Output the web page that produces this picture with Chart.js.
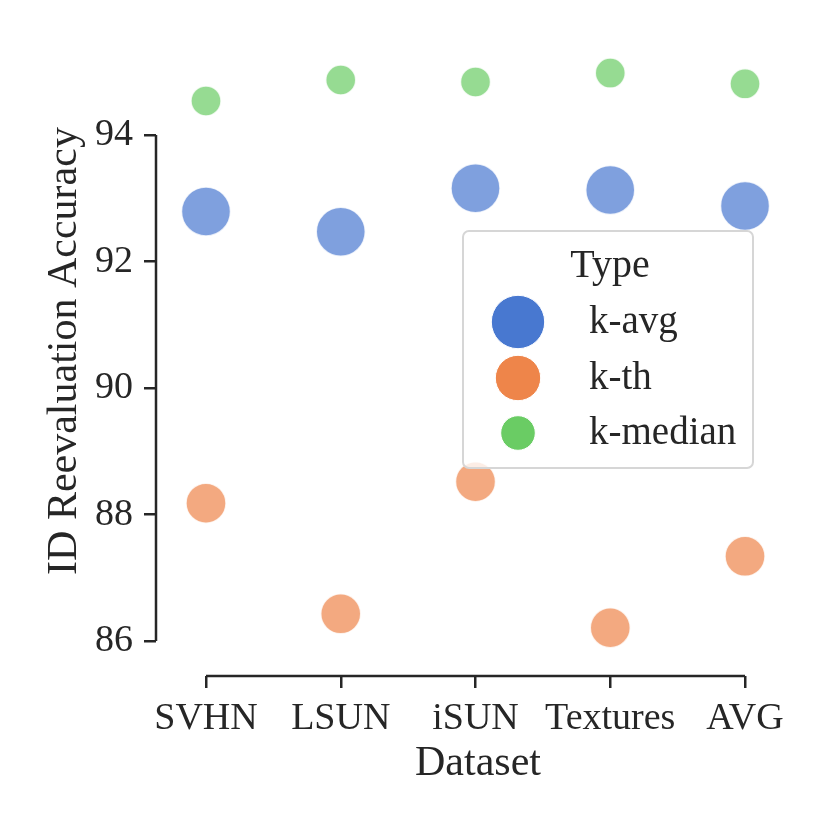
<!DOCTYPE html>
<html>
<head>
<meta charset="utf-8">
<script src="https://cdn.jsdelivr.net/npm/chart.js@4/dist/chart.umd.min.js"></script>
<style>
  body { margin: 0; background: #ffffff; }
  #wrap { width: 830px; height: 830px; }
</style>
</head>
<body>
<div id="wrap"><canvas id="grafico" width="830" height="830"></canvas></div>
<script>
// dati
var datasetNames = ["SVHN", "LSUN", "iSUN", "Textures", "AVG"];
var kAvg = [92.79, 92.47, 93.16, 93.13, 92.88];
var kTh = [88.18, 86.43, 88.52, 86.21, 87.34];
var kMedian = [94.54, 94.87, 94.84, 94.98, 94.81];
var yTicks = [86, 88, 90, 92, 94];

var testo = "#262626";
var serif = "'Liberation Serif', 'Times New Roman', 'DejaVu Serif', serif";

function punti(valori){
    return valori.map((v, i) => ({x: i, y: v}));
}

// spine "tagliate" come seaborn despine(trim=True)
const spinePlugin = {
    id: 'spine',
    afterDraw(chart){
        const ctx = chart.ctx;
        const xs = chart.scales.x, ys = chart.scales.y;
        ctx.save();
        ctx.strokeStyle = testo;
        ctx.lineWidth = 2.5;
        ctx.lineCap = 'butt';
        ctx.beginPath();
        ctx.moveTo(chart.chartArea.left, ys.getPixelForValue(yTicks[0]));
        ctx.lineTo(chart.chartArea.left, ys.getPixelForValue(yTicks[yTicks.length - 1]));
        ctx.moveTo(xs.getPixelForValue(0), chart.chartArea.bottom);
        ctx.lineTo(xs.getPixelForValue(datasetNames.length - 1), chart.chartArea.bottom);
        ctx.stroke();
        ctx.restore();
    }
};

const legendaPlugin = {
    id: 'legenda',
    afterDatasetsDraw(chart, args, opts){
        const ctx = chart.ctx;
        ctx.save();
        ctx.beginPath();
        ctx.roundRect(463, 231, 290, 237, 6);
        ctx.fillStyle = "rgba(255,255,255,0.8)";
        ctx.fill();
        ctx.strokeStyle = "#d6d6d6";
        ctx.lineWidth = 2;
        ctx.stroke();

        ctx.fillStyle = testo;
        ctx.font = "40px " + serif;
        ctx.textAlign = "center";
        ctx.textBaseline = "alphabetic";
        ctx.fillText("Type", 610, 277);

        ctx.font = "39px " + serif;
        ctx.textAlign = "left";
        const righe = [322, 378, 433];
        chart.data.datasets.forEach((ds, i) => {
            ctx.beginPath();
            ctx.arc(518, righe[i], opts.raggi[i], 0, Math.PI * 2);
            ctx.fillStyle = ds.legendColor;
            ctx.fill();
            ctx.strokeStyle = "#ffffff";
            ctx.lineWidth = 1;
            ctx.stroke();
            ctx.fillStyle = testo;
            ctx.fillText(ds.label, 589, righe[i] + 11);
        });
        ctx.restore();
    }
};

const context = document.getElementById("grafico").getContext("2d");
const chart = new Chart(context, {
    type: 'scatter',
    data: {
        datasets: [
            {
                label: "k-avg",
                data: punti(kAvg),
                backgroundColor: "rgba(72,120,208,0.7)",
                legendColor: "#4878d0",
                borderColor: "rgba(255,255,255,0.8)",
                borderWidth: 1.5,
                pointRadius: 24.5
            },
            {
                label: "k-th",
                data: punti(kTh),
                backgroundColor: "rgba(238,133,74,0.7)",
                legendColor: "#ee854a",
                borderColor: "rgba(255,255,255,0.8)",
                borderWidth: 1.5,
                pointRadius: 20
            },
            {
                label: "k-median",
                data: punti(kMedian),
                backgroundColor: "rgba(106,204,100,0.7)",
                legendColor: "#6acc64",
                borderColor: "rgba(255,255,255,0.8)",
                borderWidth: 1.5,
                pointRadius: 15
            }
        ]
    },
    options: {
        responsive: false,
        animation: false,
        layout: { padding: { top: 5, right: 30, bottom: 0, left: 0 } },
        plugins: {
            legend: { display: false },
            tooltip: { enabled: false },
            legenda: { raggi: [26.7, 22.7, 17.3] }
        },
        scales: {
            x: {
                type: 'linear',
                min: -0.371,
                max: 4.408,
                afterBuildTicks: s => { s.ticks = datasetNames.map((n, i) => ({value: i})); },
                afterFit: s => { s.height = 154; },
                ticks: {
                    color: testo,
                    font: { family: serif, size: 38 },
                    padding: 8,
                    maxRotation: 0,
                    autoSkip: false,
                    callback: v => datasetNames[v]
                },
                grid: { drawOnChartArea: false, drawTicks: true, tickLength: 12, color: testo, lineWidth: 2.5 },
                border: { display: false },
                title: {
                    display: true,
                    text: "Dataset",
                    color: testo,
                    font: { family: serif, size: 42 },
                    padding: { top: 0, bottom: 41 }
                }
            },
            y: {
                min: 85.447,
                max: 95.724,
                afterBuildTicks: s => { s.ticks = yTicks.map(v => ({value: v})); },
                afterFit: s => { s.width = 156; s.paddingTop = 0; s.paddingBottom = 0; },
                ticks: {
                    color: testo,
                    font: { family: serif, size: 38, lineHeight: 0.5 },
                    padding: 11
                },
                grid: { drawOnChartArea: false, drawTicks: true, tickLength: 12, color: testo, lineWidth: 2.5 },
                border: { display: false },
                title: {
                    display: true,
                    text: "ID Reevaluation Accuracy",
                    color: testo,
                    font: { family: serif, size: 42 },
                    padding: { top: 40, bottom: 0 }
                }
            }
        }
    },
    plugins: [spinePlugin, legendaPlugin]
});
</script>
</body>
</html>
